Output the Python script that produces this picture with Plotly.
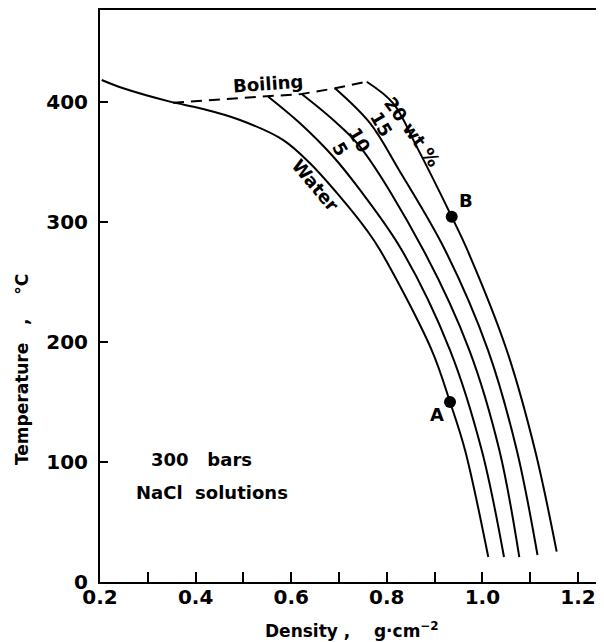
import plotly.graph_objects as go

# Density (g/cm3) vs temperature (C) along each isopleth, 300 bars
water_d = [0.2036, 0.2487, 0.3464, 0.4092, 0.4929, 0.5835, 0.6393, 0.7021, 0.7580, 0.7858, 0.8939, 0.9322, 0.9636, 1.0123]
water_t = [418.3, 411.4, 400.3, 394.8, 385.0, 368.3, 348.9, 321.1, 293.3, 276.7, 193.3, 150.0, 110.0, 20.8]

nacl5_d = [0.5521, 0.6184, 0.6881, 0.7439, 0.8312, 0.9322, 0.9985, 1.0452]
nacl5_t = [404.4, 382.3, 354.4, 326.7, 276.7, 193.3, 110.0, 20.8]

nacl10_d = [0.6220, 0.6881, 0.7439, 0.8764, 0.9726, 1.0354, 1.0772]
nacl10_t = [406.7, 385.0, 362.8, 276.7, 193.3, 110.0, 20.8]

nacl15_d = [0.6916, 0.7649, 0.8255, 0.9218, 1.0117, 1.0718, 1.1153]
nacl15_t = [411.4, 382.3, 343.3, 276.7, 193.3, 110.0, 22.5]

nacl20_d = [0.7580, 0.8134, 0.8625, 0.9358, 0.9684, 1.0508, 1.1100, 1.1554]
nacl20_t = [416.9, 398.9, 362.8, 304.4, 276.7, 193.3, 110.0, 25.3]

boiling_d = [0.3527, 0.5521, 0.6220, 0.6916, 0.7580]
boiling_t = [399.4, 404.4, 406.7, 411.4, 416.9]

point_labels = ["A", "B"]
point_d = [0.9322, 0.9358]
point_t = [150.0, 304.4]

x_tickvals = [0.2, 0.4, 0.6, 0.8, 1.0, 1.2]
x_ticktext = ["0.2", "0.4", "0.6", "0.8", "1.0", "1.2"]
y_tickvals = [0, 100, 200, 300, 400]
y_ticktext = ["0", "100", "200", "300", "400"]

FONT = "DejaVu Sans"
fig = go.Figure()
for d, t in [(water_d, water_t), (nacl5_d, nacl5_t), (nacl10_d, nacl10_t),
             (nacl15_d, nacl15_t), (nacl20_d, nacl20_t)]:
    fig.add_trace(go.Scatter(x=d, y=t, mode="lines",
                             line=dict(color="black", width=2, shape="spline", smoothing=1.0),
                             showlegend=False, hoverinfo="skip"))
fig.add_trace(go.Scatter(x=boiling_d, y=boiling_t, mode="lines",
                         line=dict(color="black", width=2, dash="11px,7px"),
                         showlegend=False, hoverinfo="skip"))
fig.add_trace(go.Scatter(x=point_d, y=point_t, mode="markers",
                         marker=dict(color="black", size=12), showlegend=False, hoverinfo="skip"))

tf = dict(family=FONT, size=18, color="black", weight="bold")
ann = [
    dict(x=0.5515, y=415.8, text="Boiling", textangle=-4),
    dict(x=0.6515, y=330.8, text="Water", textangle=50),
    dict(x=0.7038, y=360.7, text="5", textangle=60),
    dict(x=0.7421, y=368.7, text="10", textangle=60),
    dict(x=0.7893, y=381.5, text="15", textangle=60),
    dict(x=0.8548, y=375.0, text="20 wt %", textangle=54),
    dict(x=0.9042, y=139.2, text=point_labels[0]),
    dict(x=0.9657, y=318.3, text=point_labels[1]),
    dict(x=0.4113, y=101.7, text="300   bars"),
    dict(x=0.4343, y=75.0, text="NaCl  solutions"),
]
for a in ann:
    fig.add_annotation(xref="x", yref="y", showarrow=False, font=tf, **a)

# axis titles
tt = dict(family=FONT, size=17, color="black", weight="bold")
fig.add_annotation(xref="paper", yref="paper", x=(352 - 100) / 498, y=(582 - 630) / 572,
                   xanchor="center", yanchor="middle",
                   text="Density ,    g·cm<sup>−2</sup>", showarrow=False, font=tt)
fig.add_annotation(xref="paper", yref="paper", x=(22 - 100) / 498, y=(582 - 370) / 572,
                   xanchor="center", yanchor="middle",
                   text="Temperature   ,    °C", textangle=-90, showarrow=False, font=tt)

ax = dict(showgrid=False, zeroline=False, showline=True, linecolor="black", linewidth=2,
          mirror=True, ticks="inside", tickwidth=2, tickcolor="black", automargin=False,
          tickfont=dict(family=FONT, size=20, color="black", weight="bold"))
fig.update_xaxes(range=[0.2, 0.2 + 498 / 478], tickvals=x_tickvals, ticktext=x_ticktext, ticklen=10,
                 ticklabelstandoff=-4,
                 minor=dict(ticks="inside", tick0=0.2, dtick=0.1, ticklen=10, tickwidth=2, tickcolor="black"),
                 **ax)
fig.update_yaxes(range=[0, 572 / 1.2], tickvals=y_tickvals, ticktext=y_ticktext, ticklen=8,
                 ticklabelstandoff=6, **ax)
# page body has an 8px default margin, so the figure is sized/margined to compensate
fig.update_layout(width=596, height=634, margin=dict(l=92, r=6, t=2, b=60),
                  plot_bgcolor="white", paper_bgcolor="white")
fig.write_html("out.html")
